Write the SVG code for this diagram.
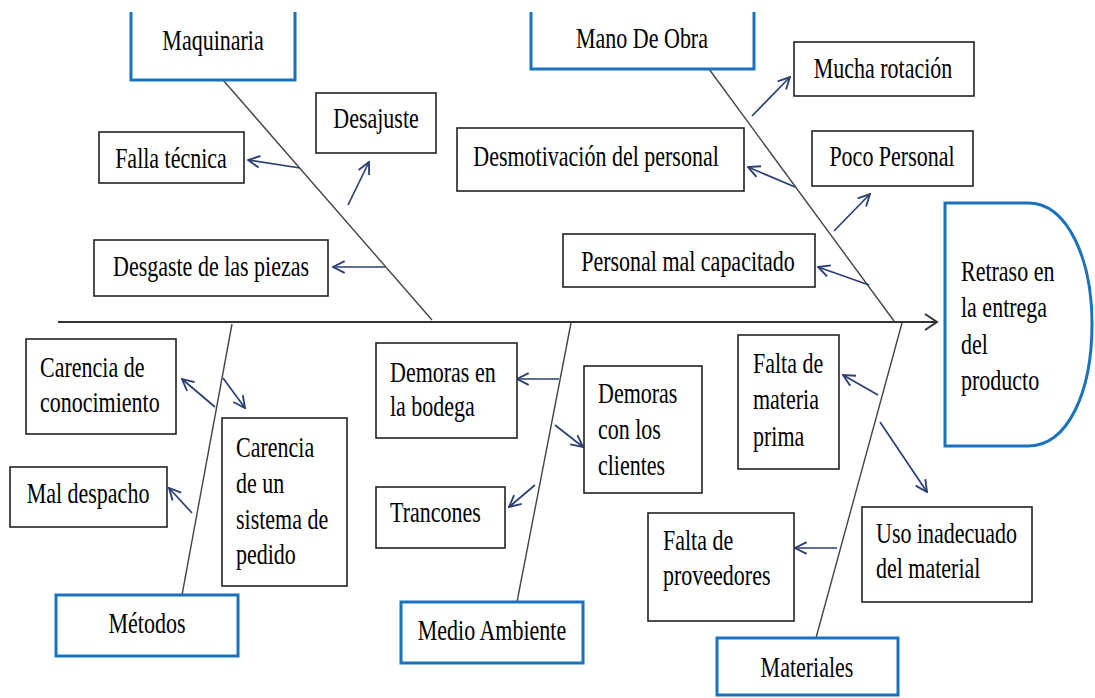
<svg xmlns="http://www.w3.org/2000/svg" width="1095" height="698" viewBox="0 0 1095 698">
<style>
.t{font-family:"Liberation Serif","Times New Roman",serif;font-size:22px;fill:#000}
.c{text-anchor:middle}
.box{fill:#fff;stroke:#222;stroke-width:1.6}
.cat{fill:#fff;stroke:#1a72bd;stroke-width:3}
.bone{stroke:#444;stroke-width:1.4;fill:none}
.arr{stroke:#2b3f73;stroke-width:1.7;fill:none;marker-end:url(#ah)}
</style>
<defs>
<marker id="ah" viewBox="0 0 12 12" refX="11" refY="6" markerWidth="14" markerHeight="14" markerUnits="userSpaceOnUse" orient="auto">
<path d="M1,1 L11,6 L1,11" fill="none" stroke="#2b3f73" stroke-width="1.6"/>
</marker>
</defs>
<rect width="1095" height="698" fill="#fff"/>

<g id="connectors">
<line x1="58" y1="322" x2="936" y2="322" stroke="#333" stroke-width="2"/>
<path d="M925,314 L937,322 L925,330" fill="none" stroke="#333" stroke-width="2"/>
<line class="bone" x1="223" y1="80" x2="432" y2="320"/>
<line class="bone" x1="709" y1="69" x2="894" y2="321"/>
<line class="bone" x1="232" y1="324" x2="182" y2="595"/>
<line class="bone" x1="571" y1="323" x2="517" y2="602"/>
<line class="bone" x1="902" y1="323" x2="816" y2="638"/>
<line class="arr" x1="300" y1="168" x2="248" y2="160"/>
<line class="arr" x1="348" y1="205" x2="369" y2="162"/>
<line class="arr" x1="385" y1="267" x2="333" y2="267"/>
<line class="arr" x1="752" y1="116" x2="790" y2="77"/>
<line class="arr" x1="795" y1="187" x2="748" y2="167"/>
<line class="arr" x1="834" y1="231" x2="870" y2="194"/>
<line class="arr" x1="869" y1="285" x2="818" y2="267"/>
<line class="arr" x1="215" y1="407" x2="182" y2="379"/>
<line class="arr" x1="223" y1="378" x2="245" y2="408"/>
<line class="arr" x1="192" y1="513" x2="169" y2="488"/>
<line class="arr" x1="559" y1="379" x2="517" y2="379"/>
<line class="arr" x1="555" y1="425" x2="583" y2="447"/>
<line class="arr" x1="535" y1="485" x2="509" y2="507"/>
<line class="arr" x1="878" y1="395" x2="843" y2="375"/>
<line class="arr" x1="880" y1="422" x2="927" y2="492"/>
<line class="arr" x1="837" y1="548" x2="795" y2="548"/>
</g>

<g id="maquinaria">
<path class="cat" d="M131,12 V80 H295 V12"/>
<text class="t c" transform="translate(213,50) scale(1,1.35)">Maquinaria</text>
</g>
<g id="mano-de-obra">
<path class="cat" d="M531,12 V69 H754 V12"/>
<text class="t c" transform="translate(642,48) scale(1,1.35)">Mano De Obra</text>
</g>
<g id="metodos">
<rect class="cat" x="56" y="595" width="182" height="61"/>
<text class="t c" transform="translate(147,633) scale(1,1.35)">Métodos</text>
</g>
<g id="medio-ambiente">
<rect class="cat" x="401" y="602" width="182" height="61"/>
<text class="t c" transform="translate(492,640) scale(1,1.35)">Medio Ambiente</text>
</g>
<g id="materiales">
<rect class="cat" x="717" y="638" width="181" height="57"/>
<text class="t c" transform="translate(807,677) scale(1,1.35)">Materiales</text>
</g>
<g id="retraso">
<path class="cat" d="M945,203 H1028 C1068,203 1092,260 1092,324 C1092,392 1068,446 1028,446 H945 Z"/>
<text class="t" transform="translate(961,281) scale(1,1.35)"><tspan x="0" y="0">Retraso en</tspan><tspan x="0" dy="27">la entrega</tspan><tspan x="0" dy="27">del</tspan><tspan x="0" dy="27">producto</tspan></text>
</g>

<g id="falla-tecnica">
<rect class="box" x="99" y="132" width="145" height="51"/>
<text class="t c" transform="translate(171,168) scale(1,1.35)">Falla técnica</text>
</g>
<g id="desajuste">
<rect class="box" x="316" y="93" width="120" height="60"/>
<text class="t c" transform="translate(376,128) scale(1,1.35)">Desajuste</text>
</g>
<g id="desgaste">
<rect class="box" x="94" y="240" width="234" height="56"/>
<text class="t c" transform="translate(211,276) scale(1,1.35)">Desgaste de las piezas</text>
</g>
<g id="mucha-rotacion">
<rect class="box" x="794" y="42" width="180" height="54"/>
<text class="t c" transform="translate(883,78) scale(1,1.35)">Mucha rotación</text>
</g>
<g id="desmotivacion">
<rect class="box" x="457" y="128" width="287" height="63"/>
<text class="t c" transform="translate(596,166) scale(1,1.35)">Desmotivación del personal</text>
</g>
<g id="poco-personal">
<rect class="box" x="812" y="131" width="161" height="55"/>
<text class="t c" transform="translate(892,166) scale(1,1.35)">Poco Personal</text>
</g>
<g id="personal-mal-capacitado">
<rect class="box" x="563" y="234" width="252" height="53"/>
<text class="t c" transform="translate(688,271) scale(1,1.35)">Personal mal capacitado</text>
</g>
<g id="carencia-conocimiento">
<rect class="box" x="26" y="339" width="150" height="95"/>
<text class="t" transform="translate(40,377) scale(1,1.35)"><tspan x="0" y="0">Carencia de</tspan><tspan x="0" dy="26">conocimiento</tspan></text>
</g>
<g id="mal-despacho">
<rect class="box" x="10" y="467" width="157" height="60"/>
<text class="t c" transform="translate(88,503) scale(1,1.35)">Mal despacho</text>
</g>
<g id="carencia-sistema">
<rect class="box" x="222" y="418" width="125" height="168"/>
<text class="t" transform="translate(236,457) scale(1,1.35)"><tspan x="0" y="0">Carencia</tspan><tspan x="0" dy="26.5">de un</tspan><tspan x="0" dy="26.5">sistema de</tspan><tspan x="0" dy="26.5">pedido</tspan></text>
</g>
<g id="demoras-bodega">
<rect class="box" x="376" y="343" width="141" height="95"/>
<text class="t" transform="translate(390,382) scale(1,1.35)"><tspan x="0" y="0">Demoras en</tspan><tspan x="0" dy="25.5">la bodega</tspan></text>
</g>
<g id="demoras-clientes">
<rect class="box" x="584" y="366" width="118" height="127"/>
<text class="t" transform="translate(598,403) scale(1,1.35)"><tspan x="0" y="0">Demoras</tspan><tspan x="0" dy="26.5">con los</tspan><tspan x="0" dy="26.5">clientes</tspan></text>
</g>
<g id="trancones">
<rect class="box" x="376" y="487" width="129" height="61"/>
<text class="t" transform="translate(390,522) scale(1,1.35)">Trancones</text>
</g>
<g id="falta-materia-prima">
<rect class="box" x="738" y="335" width="101" height="134"/>
<text class="t" transform="translate(753,373) scale(1,1.35)"><tspan x="0" y="0">Falta de</tspan><tspan x="0" dy="27">materia</tspan><tspan x="0" dy="27">prima</tspan></text>
</g>
<g id="uso-inadecuado">
<rect class="box" x="862" y="507" width="170" height="95"/>
<text class="t" transform="translate(876,543) scale(1,1.35)"><tspan x="0" y="0">Uso inadecuado</tspan><tspan x="0" dy="26">del material</tspan></text>
</g>
<g id="falta-proveedores">
<rect class="box" x="648" y="513" width="146" height="108"/>
<text class="t" transform="translate(663,550) scale(1,1.35)"><tspan x="0" y="0">Falta de</tspan><tspan x="0" dy="26">proveedores</tspan></text>
</g>
</svg>
